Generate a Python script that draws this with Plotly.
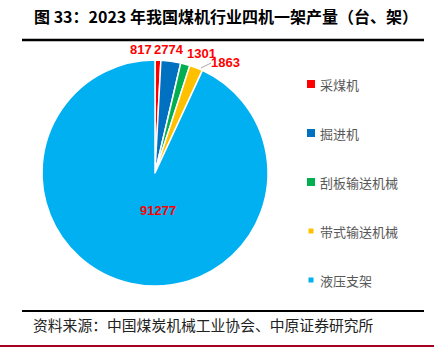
import plotly.graph_objects as go

categories = ["采煤机", "掘进机", "刮板输送机械", "带式输送机械", "液压支架"]
values = [817, 2774, 1301, 1863, 91277]
colors = ["#FF0000", "#0070C0", "#00B050", "#FFC000", "#00B0F0"]
title_text = "图 33：2023 年我国煤机行业四机一架产量（台、架）"
source_text = "资料来源：中国煤炭机械工业协会、中原证券研究所"

W, H = 434, 354
FONT = "Noto Sans CJK SC"

fig = go.Figure()
fig.add_trace(go.Pie(
    labels=categories,
    values=values,
    sort=False,
    direction="clockwise",
    rotation=0,
    marker=dict(colors=colors, line=dict(color="white", width=1.5)),
    textinfo="none",
    showlegend=False,
    domain=dict(x=[42 / W, 268 / W], y=[1 - 286 / H, 1 - 60 / H]),
    hoverinfo="label+value",
))

# data labels (positions in pixels, text from the values list)
label_pos = [(141, 49), (169, 49), (201, 53), (226, 62), (158, 210)]
for v, (px, py) in zip(values, label_pos):
    fig.add_annotation(x=px / W, y=1 - py / H, xref="paper", yref="paper",
                       text=str(v), showarrow=False, xanchor="center", yanchor="middle",
                       font=dict(family="Liberation Sans", size=13, color="#FF0000", weight="bold"))
# leader line for the 1863 label
fig.add_shape(type="line", xref="paper", yref="paper",
              x0=201 / W, x1=211 / W, y0=1 - 68 / H, y1=1 - 63 / H,
              line=dict(color="#A6A6A6", width=1))

# manual legend
leg_top = 84
leg_gap = 49
sizes = [8, 8, 8, 5, 5]
for i, (cat, col) in enumerate(zip(categories, colors)):
    yc = leg_top + i * leg_gap
    s = sizes[i]
    fig.add_shape(type="rect", xref="paper", yref="paper",
                  x0=(311 - s / 2) / W, x1=(311 + s / 2) / W,
                  y0=1 - (yc + s / 2) / H, y1=1 - (yc - s / 2) / H,
                  fillcolor=col, line=dict(width=0))
    fig.add_annotation(x=318 / W, y=1 - yc / H, xref="paper", yref="paper",
                       text=cat, showarrow=False, xanchor="left", yanchor="middle",
                       font=dict(family=FONT, size=13, color="#595959"))

# title
fig.add_annotation(x=32 / W, y=1 - 16 / H, xref="paper", yref="paper",
                   text=title_text, showarrow=False, xanchor="left", yanchor="middle",
                   font=dict(family=FONT, size=16, color="black", weight="bold"))
fig.add_shape(type="line", xref="paper", yref="paper",
              x0=22 / W, x1=424 / W, y0=1 - 40 / H, y1=1 - 40 / H,
              line=dict(color="black", width=2.5))
fig.add_shape(type="line", xref="paper", yref="paper",
              x0=22 / W, x1=424 / W, y0=1 - 311 / H, y1=1 - 311 / H,
              line=dict(color="black", width=2))
fig.add_annotation(x=31 / W, y=1 - 324 / H, xref="paper", yref="paper",
                   text=source_text, showarrow=False, xanchor="left", yanchor="middle",
                   font=dict(family=FONT, size=14.8, color="#222222"))
fig.add_shape(type="line", xref="paper", yref="paper",
              x0=0, x1=1, y0=1 - 346 / H, y1=1 - 346 / H,
              line=dict(color="#A50021", width=2))
fig.add_annotation(x=0, y=1 - 349 / H, xref="paper", yref="paper",
                   text="本报告版权属于中原证券股份有限公司，请阅读报告末页重要声明",
                   showarrow=False, xanchor="left", yanchor="top",
                   font=dict(family=FONT, size=13, color="black"))

fig.update_layout(
    width=W, height=H,
    margin=dict(l=0, r=0, t=0, b=0),
    paper_bgcolor="white", plot_bgcolor="white",
)
fig.write_html("out.html")
